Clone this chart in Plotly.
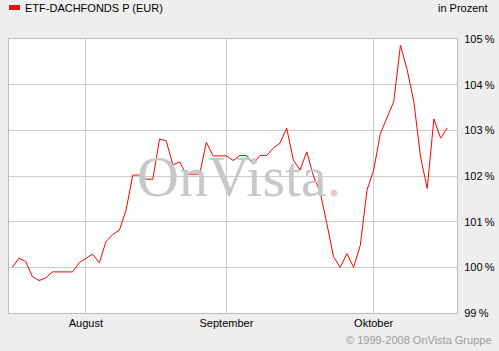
import plotly.graph_objects as go

# Trading-day index and fund performance (in %)
day_index = list(range(66))
values = [
    100.0, 100.2, 100.13, 99.8, 99.71, 99.77, 99.9, 99.9, 99.9, 99.9,
    100.1, 100.2, 100.29, 100.1, 100.56, 100.72, 100.81, 101.25, 102.02, 102.02,
    101.93, 101.93, 102.81, 102.77, 102.24, 102.31, 102.04, 102.04, 102.04, 102.74,
    102.44, 102.44, 102.44, 102.34, 102.45, 102.45, 102.26, 102.45, 102.45, 102.61,
    102.72, 103.05, 102.35, 102.13, 102.53, 102.0, 101.65, 100.96, 100.23, 100.0,
    100.3, 100.0, 100.48, 101.69, 102.13, 102.93, 103.3, 103.63, 104.86, 104.33,
    103.63, 102.42, 101.73, 103.25, 102.83, 103.05,
]
month_ticks = [11, 32, 54]
month_labels = ["August", "September", "Oktober"]
y_ticks = [99, 100, 101, 102, 103, 104, 105]
y_labels = ["99\u2009%", "100\u2009%", "101\u2009%", "102\u2009%", "103\u2009%", "104\u2009%", "105\u2009%"]
series_name = "ETF-DACHFONDS P (EUR)"

W, H = 499, 351
L, R, T, B = 9, 42, 39, 38
pw, ph = W - L - R, H - T - B


def px(x):
    return (x - L) / pw


def py(y):
    return (H - B - y) / ph


fig = go.Figure()
fig.add_trace(go.Scatter(
    x=day_index, y=values, mode="lines", name=series_name,
    line=dict(color="#FF0000", width=1), showlegend=False, hoverinfo="skip",
))

grid = "#CCCCCC"
border = "#BDBDBD"
fig.update_layout(
    width=W, height=H,
    margin=dict(l=L, r=R, t=T, b=B, autoexpand=False),
    paper_bgcolor="#EEEEEE", plot_bgcolor="#FFFFFF",
    font=dict(family="Liberation Sans, Arial, sans-serif", size=11, color="#000000"),
    xaxis=dict(
        range=[-0.49, 66.45], tickmode="array", tickvals=month_ticks, ticktext=month_labels,
        showgrid=True, gridcolor=grid, gridwidth=1, zeroline=False, automargin=False,
        showline=True, linecolor=border, linewidth=1, mirror=True,
        ticks="", ticklen=0, tickfont=dict(size=11, color="#000000"),
    ),
    yaxis=dict(
        range=[99, 105], side="right", tickmode="array", tickvals=y_ticks, ticktext=y_labels,
        showgrid=True, gridcolor=grid, gridwidth=1, zeroline=False, automargin=False,
        showline=True, linecolor=border, linewidth=1, mirror=True,
        ticks="outside", ticklen=4, tickcolor="rgba(0,0,0,0)",
        tickfont=dict(size=11, color="#000000"),
    ),
)

# watermark
fig.add_annotation(
    xref="paper", yref="paper", x=px(239), y=py(176), xanchor="center", yanchor="middle",
    text="OnVista<span style='color:#F0C6CA'>.</span>", showarrow=False,
    font=dict(family="Liberation Serif, Times New Roman, serif", size=58, color="#C8C8C8"),
)

# legend swatch and text
fig.add_shape(type="rect", xref="paper", yref="paper",
              x0=px(9), x1=px(20), y0=py(5), y1=py(10),
              fillcolor="#EE1111", line=dict(width=0))
fig.add_annotation(xref="paper", yref="paper", x=px(23), y=py(8), xanchor="left", yanchor="middle",
                   text=series_name, showarrow=False, font=dict(size=11, color="#000000"))
fig.add_annotation(xref="paper", yref="paper", x=px(490), y=py(8), xanchor="right", yanchor="middle",
                   text="in Prozent", showarrow=False, font=dict(size=11, color="#000000"))
fig.add_annotation(xref="paper", yref="paper", x=px(494), y=py(340), xanchor="right", yanchor="middle",
                   text="\u00a9 1999-2008 OnVista Gruppe", showarrow=False,
                   font=dict(size=11, color="#999999"))

fig.write_html("out.html")
